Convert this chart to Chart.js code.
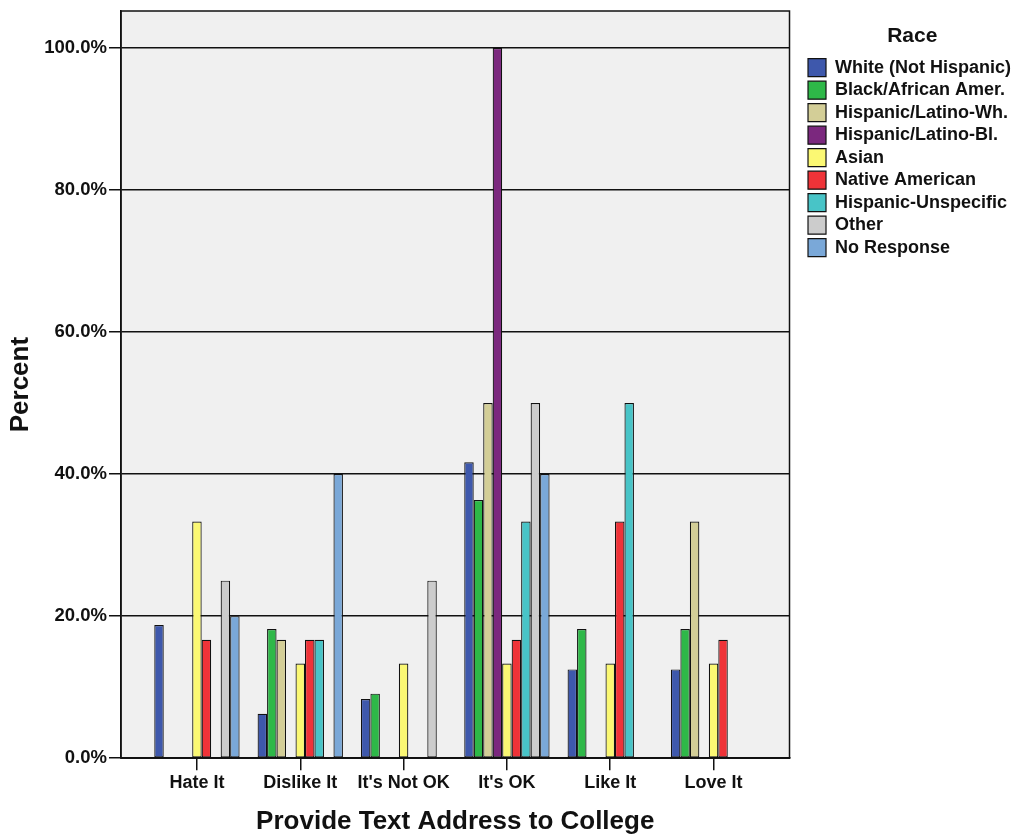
<!DOCTYPE html>
<html>
<head>
<meta charset="utf-8">
<script src="https://cdn.jsdelivr.net/npm/chart.js@4"></script>
<style>
  body { margin: 0; background: #ffffff; }
  .chart-container { position: relative; width: 1021px; height: 838px; }
</style>
</head>
<body>
<div class="chart-container"><canvas id="raceChart"></canvas></div>
<script>
const FONT = '"Liberation Sans", Arial, sans-serif';
const LEGEND_GAP = 14; // space between plot frame and legend

const categories = ['Hate It', 'Dislike It', "It's Not OK", "It's OK", 'Like It', 'Love It'];
const races = ['White (Not Hispanic)', 'Black/African Amer.', 'Hispanic/Latino-Wh.', 'Hispanic/Latino-Bl.',
               'Asian', 'Native American', 'Hispanic-Unspecific', 'Other', 'No Response'];
const raceColors = ['#3e58ac', '#2eb848', '#d3ce97', '#7b287e', '#fbf873', '#ef3338', '#48c4c7', '#cccccc', '#7aa8d8'];
const yTicks = [0, 20, 40, 60, 80, 100];

// percent within each race
const white      = [18.75, 6.25, 8.33, 41.67, 12.5, 12.5];
const black      = [null, 18.18, 9.09, 36.36, 18.18, 18.18];
const hispWhite  = [null, 16.67, null, 50, null, 33.33];
const hispBlack  = [null, null, null, 100, null, null];
const asian      = [33.33, 13.33, 13.33, 13.33, 13.33, 13.33];
const nativeAmer = [16.67, 16.67, null, 16.67, 33.33, 16.67];
const hispUnspec = [null, 16.67, null, 33.33, 50, null];
const other      = [25, null, 25, 50, null, null];
const noResponse = [20, 40, null, 40, null, null];

const seriesValues = [white, black, hispWhite, hispBlack, asian, nativeAmer, hispUnspec, other, noResponse];

const datasets = seriesValues.map((values, i) => ({
  label: races[i],
  data: values.map((v, j) => ({ x: j, y: v })),
  backgroundColor: raceColors[i],
  borderColor: '#111111',
  borderWidth: 1.2,
  borderSkipped: false
}));

// plot background and frame
const plotFrame = {
  id: 'plotFrame',
  beforeDraw(chart) {
    const a = chart.chartArea;
    const c = chart.ctx;
    c.save();
    c.fillStyle = '#f0f0f0';
    c.fillRect(a.left, a.top, a.right - a.left, a.bottom - a.top);
    c.restore();
  },
  afterDraw(chart) {
    const a = chart.chartArea;
    const c = chart.ctx;
    c.save();
    c.strokeStyle = '#111111';
    c.lineWidth = 1.5;
    c.strokeRect(a.left, a.top, a.right - a.left, a.bottom - a.top);
    c.restore();
  }
};

// leave a gap between the plot and the legend
const legendGap = {
  id: 'legendGap',
  afterInit(chart) {
    const legend = chart.legend;
    const fit = legend.fit;
    legend.fit = function () {
      fit.call(this);
      this.width += LEGEND_GAP;
    };
  },
  afterLayout(chart) {
    chart.legend.left += LEGEND_GAP;
    chart.legend.width -= LEGEND_GAP;
  }
};

const config = {
  type: 'bar',
  data: { datasets: datasets },
  options: {
    responsive: true,
    maintainAspectRatio: false,
    animation: false,
    layout: { padding: { top: 11, bottom: 1, left: 0, right: 0 } },
    datasets: {
      bar: { categoryPercentage: 0.826, barPercentage: 1 }
    },
    scales: {
      x: {
        type: 'linear',
        offset: false,
        min: -0.735,
        max: 5.735,
        afterBuildTicks: (s) => { s.ticks = categories.map((c, i) => ({ value: i })); },
        grid: { offset: false, drawOnChartArea: false, drawTicks: true, tickLength: 12, color: '#111111', lineWidth: 1.5 },
        border: { display: true, color: '#111111', width: 1.5 },
        ticks: {
          padding: 2,
          color: '#111111',
          font: { family: FONT, size: 18, weight: 'bold' },
          callback: (v) => categories[v]
        },
        title: {
          display: true,
          text: 'Provide Text Address to College',
          color: '#111111',
          font: { family: FONT, size: 26, weight: 'bold' },
          padding: { top: 10, bottom: 0 }
        }
      },
      y: {
        min: 0,
        max: 105.2,
        afterBuildTicks: (s) => { s.ticks = yTicks.map(v => ({ value: v })); },
        afterFit: (s) => {
          s.width = 121;
          s.paddingTop = 0; // top label sits well below the frame
        },
        grid: { drawOnChartArea: true, drawTicks: true, tickLength: 12, color: '#111111', lineWidth: 1.5 },
        border: { display: true, color: '#111111', width: 1.5 },
        ticks: {
          padding: 2,
          color: '#111111',
          font: { family: FONT, size: 18.5, weight: 'bold' },
          callback: (v) => v.toFixed(1) + '%'
        },
        title: {
          display: true,
          text: 'Percent',
          color: '#111111',
          font: { family: FONT, size: 26, weight: 'bold' },
          padding: { top: 5, bottom: 4 }
        }
      }
    },
    plugins: {
      tooltip: { enabled: false },
      legend: {
        display: true,
        position: 'right',
        align: 'start',
        title: {
          display: true,
          text: 'Race',
          color: '#111111',
          font: { family: FONT, size: 21, weight: 'bold' },
          padding: { top: 15, bottom: 3 }
        },
        labels: {
          boxWidth: 18,
          boxHeight: 18,
          padding: 4.5,
          color: '#111111',
          font: { family: FONT, size: 18, weight: 'bold' }
        }
      }
    }
  },
  plugins: [plotFrame, legendGap]
};

const ctx = document.getElementById('raceChart').getContext('2d');
const chart = new Chart(ctx, config);
</script>
</body>
</html>
